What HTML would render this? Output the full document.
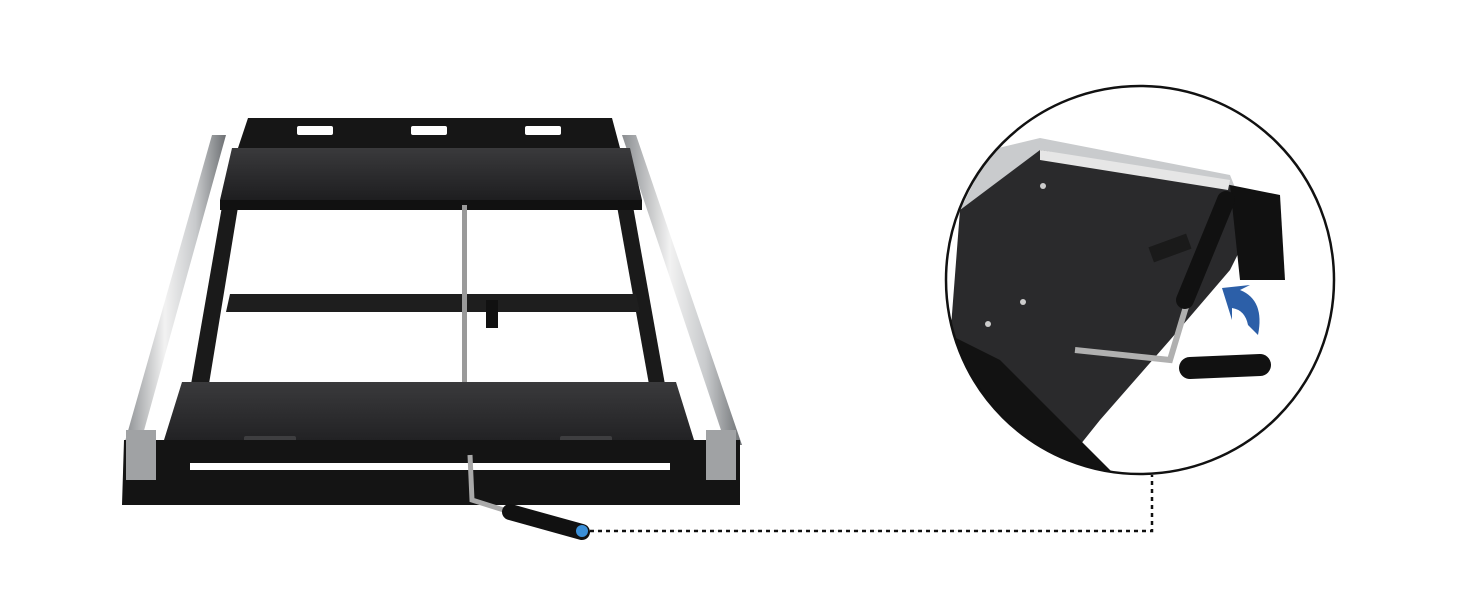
<!DOCTYPE html>
<html><head><meta charset="utf-8"><style>
html,body{margin:0;padding:0;background:#fff;}
svg{display:block;}
</style></head><body>
<svg width="1464" height="600" viewBox="0 0 1464 600" xmlns="http://www.w3.org/2000/svg">
<defs>
<linearGradient id="rail" x1="0" x2="1" y1="0" y2="0">
<stop offset="0" stop-color="#8a8d90"/><stop offset="0.4" stop-color="#f2f2f2"/><stop offset="0.7" stop-color="#c8cacc"/><stop offset="1" stop-color="#6d7073"/>
</linearGradient>
<linearGradient id="plate" x1="0" x2="0" y1="0" y2="1">
<stop offset="0" stop-color="#3a3a3c"/><stop offset="1" stop-color="#1e1e20"/>
</linearGradient>
<clipPath id="circ"><circle cx="1140" cy="280" r="194"/></clipPath>
</defs>

<!-- Left rails -->
<polygon points="212,135 226,135 140,445 124,445" fill="url(#rail)"/>
<polygon points="622,135 636,135 742,445 726,445" fill="url(#rail)"/>
<!-- inner black side frames -->
<polygon points="224,195 240,195 208,390 190,390" fill="#1a1a1a"/>
<polygon points="615,195 631,195 666,390 650,390" fill="#1a1a1a"/>
<!-- back flange -->
<polygon points="248,118 612,118 620,148 238,148" fill="#161616"/>
<rect x="297" y="126" width="36" height="9" rx="2" fill="#fff"/>
<rect x="411" y="126" width="36" height="9" rx="2" fill="#fff"/>
<rect x="525" y="126" width="36" height="9" rx="2" fill="#fff"/>
<!-- top plate -->
<polygon points="232,148 630,148 642,200 220,200" fill="url(#plate)"/>
<rect x="220" y="200" width="422" height="10" fill="#111"/>
<!-- middle crossbar -->
<polygon points="230,294 636,294 640,312 226,312" fill="#1e1e1e"/>
<rect x="486" y="300" width="12" height="28" fill="#111"/>
<!-- rod -->
<rect x="462" y="205" width="5" height="180" fill="#9a9a9a"/>
<!-- bottom plate -->
<polygon points="182,382 676,382 694,440 500,440 488,450 372,450 360,440 164,440" fill="url(#plate)"/>
<rect x="244" y="436" width="52" height="10" rx="2" fill="#3e3e40"/>
<rect x="560" y="436" width="52" height="10" rx="2" fill="#3e3e40"/>
<!-- base -->
<polygon points="124,440 740,440 740,505 122,505" fill="#141414"/>
<rect x="190" y="463" width="480" height="7" fill="#fff"/>
<rect x="126" y="430" width="30" height="50" fill="#a0a2a4"/>
<rect x="706" y="430" width="30" height="50" fill="#a0a2a4"/>
<!-- handle -->
<polyline points="470,455 472,500 510,512" fill="none" stroke="#a9a9a9" stroke-width="5"/>
<line x1="510" y1="512" x2="582" y2="532" stroke="#111" stroke-width="16" stroke-linecap="round"/>
<circle cx="582" cy="531" r="6" fill="#3a8fd8"/>
<!-- connector -->
<path d="M590,531 H1152 V475" fill="none" stroke="#111" stroke-width="2.5" stroke-dasharray="4,4"/>

<!-- Zoom circle -->
<g clip-path="url(#circ)">
<rect x="940" y="80" width="400" height="400" fill="#fff"/>
<polygon points="990,150 1040,138 1230,175 1240,200 960,210" fill="#c9cbcd"/>
<polygon points="960,210 1040,150 1230,185 1250,230 1230,270 1170,340 1100,420 1060,470 940,470" fill="#2a2a2c"/>
<polygon points="940,330 1000,360 1120,480 940,480" fill="#121212"/>
<polygon points="1230,185 1280,195 1285,280 1240,280" fill="#111"/>
<polygon points="1040,150 1230,180 1228,190 1040,160" fill="#e6e6e6"/>
<rect x="1150" y="240" width="40" height="16" fill="#1a1a1a" transform="rotate(-20 1170 248)"/>
<path d="M1225,200 L1185,310 L1170,360 L1075,350" fill="none" stroke="#b0b0b0" stroke-width="6"/>
<line x1="1226" y1="200" x2="1185" y2="300" stroke="#111" stroke-width="18" stroke-linecap="round"/>
<line x1="1190" y1="368" x2="1260" y2="365" stroke="#111" stroke-width="22" stroke-linecap="round"/>
<path d="M1240,290 Q1265,300 1258,335 L1248,325 Q1245,310 1232,308 L1232,320 L1222,288 L1250,285 Z" fill="#2c5fa8"/>
<circle cx="1043" cy="186" r="3" fill="#ccc"/>
<circle cx="1023" cy="302" r="3" fill="#ccc"/>
<circle cx="988" cy="324" r="3" fill="#ccc"/>
</g>
<circle cx="1140" cy="280" r="194" fill="none" stroke="#111" stroke-width="2.5"/>
</svg>
</body></html>
